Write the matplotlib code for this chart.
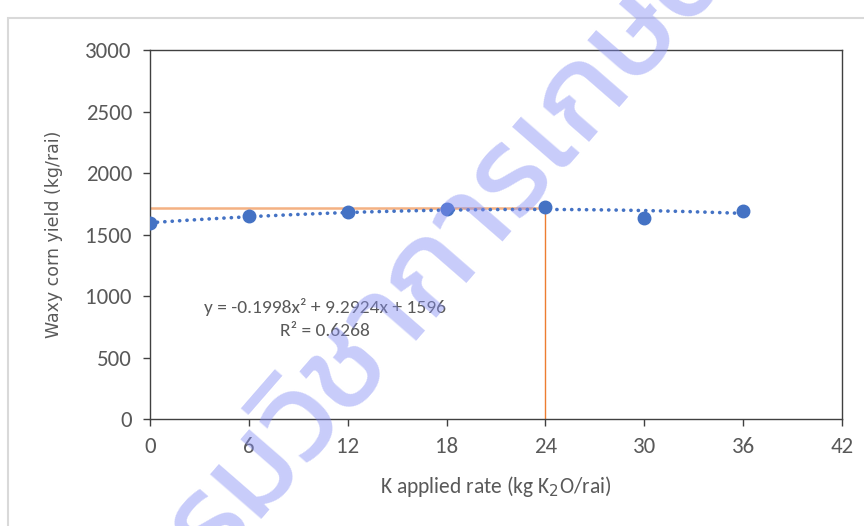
import os
import matplotlib
matplotlib.use('Agg')
from matplotlib import pyplot as plt
from matplotlib import font_manager
from matplotlib.patches import Rectangle
import numpy as np

# data
k_rate = [0, 6, 12, 18, 24, 30, 36]
yield_kg = [1594, 1650, 1683, 1707, 1724, 1634, 1691]
fit_coef = [-0.1998, 9.2924, 1596]
r_squared = 0.6268
opt_rate = 24
opt_yield = 1718
x_ticks = [0, 6, 12, 18, 24, 30, 36, 42]
y_ticks = [0, 500, 1000, 1500, 2000, 2500, 3000]
watermark = 'กรมวิชาการเกษตร'

calibri = ['Carlito', 'Liberation Sans', 'DejaVu Sans']
grey = '#595959'


def find_thai_font():
    # prefer a rounded loopless Thai face, else anything with Thai glyphs
    paths = font_manager.findSystemFonts()
    for want in ('Kanit-Regular', 'Prompt-Regular', 'Mitr-Light'):
        for p in paths:
            if os.path.basename(p).startswith(want):
                return font_manager.FontProperties(fname=p)
    for p in paths:
        if 'unifont' in p.lower():
            continue
        try:
            if font_manager.get_font(p).get_char_index(0x0E01):
                return font_manager.FontProperties(fname=p)
        except Exception:
            pass
    return None


fig = plt.figure(figsize=(8.64, 5.26), dpi=100)
ax = fig.add_axes([0.1736, 0.2034, 0.8009, 0.7015])

# outer chart border
fig.patches.append(Rectangle((0.0093, -0.1), 1.2, 1.0658, transform=fig.transFigure,
                             fill=False, edgecolor='#d9d9d9', linewidth=1.5))

# trend line
xs = np.linspace(0, 36, 200)
ax.plot(xs, np.polyval(fit_coef, xs), color='#4472C4', linewidth=2.6,
        linestyle=(0, (0.05, 2.0)), dash_capstyle='round', zorder=3)

# optimum guide lines
ax.plot([0, opt_rate], [opt_yield, opt_yield], color='#F4B183', linewidth=1.8, zorder=2)
ax.plot([opt_rate, opt_rate], [0, opt_yield], color='#ED7D31', linewidth=1.0, zorder=2)

ax.plot(k_rate, yield_kg, 'o', color='#4472C4', markersize=9, zorder=4)

ax.text(10.6, 910, 'y = -0.1998x² + 9.2924x + 1596', ha='center', va='center',
        fontsize=14, color=grey, family=calibri)
ax.text(10.6, 715, 'R² = %.4f' % r_squared, ha='center', va='center',
        fontsize=14, color=grey, family=calibri)

ax.set_xlim(0, 42)
ax.set_ylim(0, 3000)
ax.set_xticks(x_ticks)
ax.set_yticks(y_ticks)
ax.tick_params(direction='out', length=5, width=1, colors='#404040', labelcolor=grey,
               labelsize=16.5)
ax.tick_params(axis='x', pad=8)
ax.tick_params(axis='y', pad=8)
for lab in ax.get_xticklabels() + ax.get_yticklabels():
    lab.set_family(calibri)
for sp in ax.spines.values():
    sp.set_color('#404040')
    sp.set_linewidth(1.0)

ax.set_xlabel('K applied rate (kg K$_2$O/rai)', fontsize=15.5, color=grey, family=calibri,
              labelpad=12)
ax.set_ylabel('Waxy corn yield (kg/rai)', fontsize=12.5, color=grey, family='DejaVu Sans',
              labelpad=16)

# watermark
thai = find_thai_font()
if thai is not None:
    thai.set_size(90)
    fig.text(0.52, 0.52, watermark, fontproperties=thai, color='#858ef4', alpha=0.45,
             rotation=49, ha='center', va='center', zorder=10)

fig.savefig('out.png', dpi=100)
